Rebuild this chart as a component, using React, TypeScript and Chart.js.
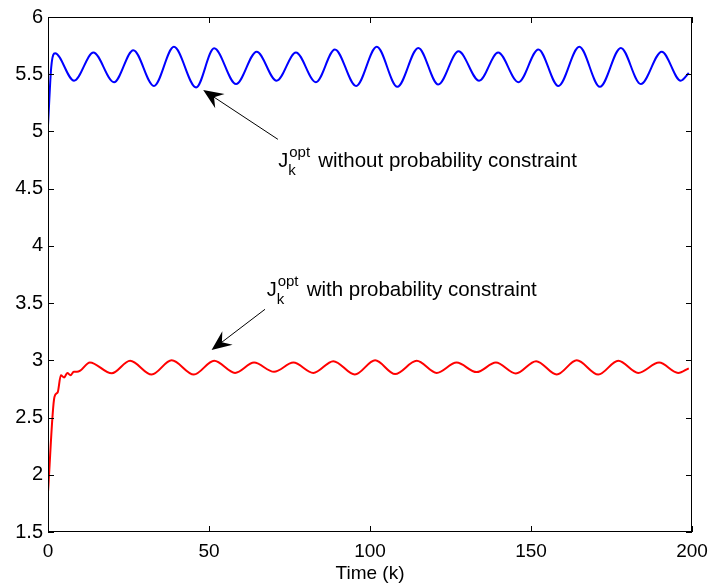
import React, { useEffect, useRef } from "react";
import { Chart, registerables } from "chart.js";

Chart.register(...registerables);

// ---- data ----
const blueK = [0, 1, 2.2, 8.1, 14.1, 20.5, 26.5, 32.9, 39.1, 46.0, 51.6, 58.4, 64.8, 71.0, 77.0, 83.2, 89.1, 95.7, 102.1, 108.5, 115.0, 121.2, 127.5, 133.9, 139.8, 146.1, 152.3, 158.5, 165.0, 171.4, 177.9, 184.1, 190.6, 196.5, 199];
const blueV = [5.05, 5.56, 5.683, 5.443, 5.69, 5.43, 5.71, 5.397, 5.74, 5.385, 5.726, 5.414, 5.697, 5.443, 5.69, 5.43, 5.717, 5.397, 5.74, 5.39, 5.73, 5.41, 5.70, 5.443, 5.69, 5.43, 5.717, 5.397, 5.74, 5.39, 5.73, 5.414, 5.697, 5.443, 5.51];

const redK = [0, 2, 3, 4, 5, 6, 7, 8, 9, 10, 13.0, 19.8, 25.5, 32.2, 38.4, 45.3, 51.6, 58.1, 64.0, 70.2, 76.2, 82.4, 88.6, 95.3, 101.6, 107.8, 114.5, 120.7, 126.9, 133.1, 139.1, 145.3, 151.6, 158.0, 164.2, 170.9, 177.1, 183.3, 189.8, 195.7, 199];
const redV = [1.85, 2.68, 2.72, 2.87, 2.85, 2.89, 2.87, 2.90, 2.90, 2.91, 2.982, 2.887, 2.996, 2.876, 3.0, 2.876, 2.996, 2.89, 2.98, 2.90, 2.98, 2.89, 2.993, 2.876, 3.0, 2.88, 2.996, 2.89, 2.98, 2.897, 2.98, 2.885, 2.993, 2.876, 3.0, 2.876, 2.996, 2.89, 2.98, 2.89, 2.93];

const xTicks = [0, 50, 100, 150, 200];
const yTicks = [1.5, 2, 2.5, 3, 3.5, 4, 4.5, 5, 5.5, 6];
const xTitle = "Time (k)";

const labelJ = "J";
const labelSup = "opt";
const labelSub = "k";
const anno1Text = "without probability constraint";
const anno2Text = "with probability constraint";

// annotation anchors in data coordinates
const anno1 = { textK: 71.5, textV: 4.692, tailK: 71.4, tailV: 4.931, tipK: 48.2, tipV: 5.362 };
const anno2 = { textK: 67.9, textV: 3.565, tailK: 67.4, tailV: 3.446, tipK: 50.8, tipV: 3.09 };

const FONT = "'Liberation Sans', Arial, Helvetica, sans-serif";

export default function App() {
  const ref = useRef<HTMLCanvasElement>(null);

  useEffect(() => {
    document.body.style.margin = "0";
    const canvas = ref.current;
    if (!canvas) return;

    const drawArrow = (ctx: CanvasRenderingContext2D, x0: number, y0: number, x1: number, y1: number) => {
      const dx = x1 - x0;
      const dy = y1 - y0;
      const len = Math.hypot(dx, dy);
      const ux = dx / len;
      const uy = dy / len;
      const px = -uy;
      const py = ux;
      const L = 20;
      const W = 8.5;
      const N = 13;
      ctx.strokeStyle = "#000";
      ctx.lineWidth = 1;
      ctx.beginPath();
      ctx.moveTo(x0, y0);
      ctx.lineTo(x1 - ux * N, y1 - uy * N);
      ctx.stroke();
      ctx.fillStyle = "#000";
      ctx.beginPath();
      ctx.moveTo(x1, y1);
      ctx.lineTo(x1 - ux * L + px * W, y1 - uy * L + py * W);
      ctx.lineTo(x1 - ux * N, y1 - uy * N);
      ctx.lineTo(x1 - ux * L - px * W, y1 - uy * L - py * W);
      ctx.closePath();
      ctx.fill();
    };

    const drawLabel = (ctx: CanvasRenderingContext2D, x: number, y: number, main: string) => {
      ctx.fillStyle = "#000";
      ctx.textAlign = "left";
      ctx.textBaseline = "alphabetic";
      ctx.font = `20px ${FONT}`;
      ctx.fillText(labelJ, x, y);
      ctx.font = `15px ${FONT}`;
      ctx.fillText(labelSup, x + 11, y - 10);
      ctx.fillText(labelSub, x + 10, y + 8);
      ctx.font = `20.5px ${FONT}`;
      ctx.fillText(main, x + 40, y);
    };

    const frame = {
      id: "frame",
      afterDraw(chart: any) {
        const { ctx, chartArea } = chart;
        const { left, right, top, bottom } = chartArea;
        const xs = chart.scales.x;
        const ys = chart.scales.y;
        ctx.save();
        ctx.strokeStyle = "#000";
        ctx.lineWidth = 1;
        ctx.strokeRect(left + 0.5, top + 0.5, right - left - 1, bottom - top - 1);
        ctx.beginPath();
        const T = 6;
        for (const v of yTicks) {
          const py = Math.round(ys.getPixelForValue(v)) + 0.5;
          ctx.moveTo(left, py);
          ctx.lineTo(left + T, py);
          ctx.moveTo(right, py);
          ctx.lineTo(right - T, py);
        }
        for (const v of xTicks) {
          const px = Math.round(xs.getPixelForValue(v)) + 0.5;
          ctx.moveTo(px, bottom);
          ctx.lineTo(px, bottom - T);
          ctx.moveTo(px, top);
          ctx.lineTo(px, top + T);
        }
        ctx.stroke();

        const P = (k: number, v: number): [number, number] => [xs.getPixelForValue(k), ys.getPixelForValue(v)];
        for (const a of [anno1, anno2]) {
          const [tx, ty] = P(a.tailK, a.tailV);
          const [hx, hy] = P(a.tipK, a.tipV);
          drawArrow(ctx, tx, ty, hx, hy);
        }
        const [l1x, l1y] = P(anno1.textK, anno1.textV);
        drawLabel(ctx, l1x, l1y, anno1Text);
        const [l2x, l2y] = P(anno2.textK, anno2.textV);
        drawLabel(ctx, l2x, l2y, anno2Text);
        ctx.restore();
      },
    };

    const chart = new Chart(canvas, {
      type: "line",
      data: {
        datasets: [
          {
            data: blueK.map((k, i) => ({ x: k, y: blueV[i] })),
            borderColor: "#0000ff",
            borderWidth: 2,
            pointRadius: 0,
            cubicInterpolationMode: "monotone",
            fill: false,
          },
          {
            data: redK.map((k, i) => ({ x: k, y: redV[i] })),
            borderColor: "#ff0000",
            borderWidth: 2,
            pointRadius: 0,
            cubicInterpolationMode: "monotone",
            fill: false,
          },
        ],
      },
      options: {
        responsive: false,
        animation: false,
        devicePixelRatio: 1,
        layout: { padding: { top: 17, right: 17, left: 0, bottom: 0 } },
        plugins: { legend: { display: false }, tooltip: { enabled: false } },
        scales: {
          x: {
            type: "linear",
            min: 0,
            max: 200,
            grid: { display: false, drawTicks: false },
            border: { display: false },
            afterBuildTicks: (s: any) => {
              s.ticks = xTicks.map((v) => ({ value: v }));
            },
            afterFit: (s: any) => {
              s.height = 54;
              s.paddingLeft = 0;
              s.paddingRight = 0;
            },
            ticks: {
              color: "#000",
              font: { family: FONT, size: 19 },
              padding: 8,
              maxRotation: 0,
              autoSkip: false,
              callback: (v: any) => String(v),
            },
            title: {
              display: true,
              text: xTitle,
              color: "#000",
              font: { family: FONT, size: 19 },
              padding: { top: 0, bottom: 1 },
            },
          },
          y: {
            type: "linear",
            min: 1.5,
            max: 6,
            grid: { display: false, drawTicks: false },
            border: { display: false },
            afterBuildTicks: (s: any) => {
              s.ticks = yTicks.map((v) => ({ value: v }));
            },
            afterFit: (s: any) => {
              s.width = 48;
              s.paddingTop = 0;
              s.paddingBottom = 0;
            },
            ticks: {
              color: "#000",
              font: { family: FONT, size: 20 },
              padding: 5,
              autoSkip: false,
              callback: (v: any) => String(v),
            },
          },
        },
      },
      plugins: [frame],
    } as any);

    return () => chart.destroy();
  }, []);

  return <canvas ref={ref} width={709} height={586} style={{ display: "block" }} />;
}
